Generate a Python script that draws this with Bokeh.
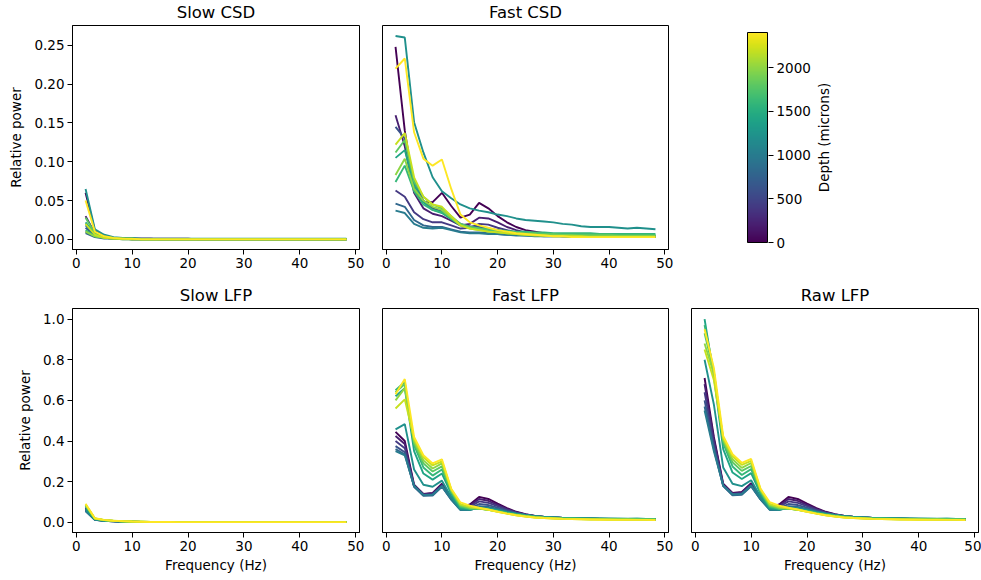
import numpy as np
from bokeh.plotting import figure
from bokeh.layouts import column, row
from bokeh.models import Range1d, FixedTicker, NumeralTickFormatter, LinearColorMapper, Label
from bokeh.core.properties import value
from bokeh.palettes import Viridis256
from bokeh.embed import file_html
from bokeh.resources import INLINE

# ---------------- data ----------------
freq = [1.67, 3.33, 5.0, 6.67, 8.33, 10.0, 11.67, 13.33, 15.0, 16.67, 18.33, 20.0,
        21.67, 23.33, 25.0, 26.67, 28.33, 30.0, 31.67, 33.33, 35.0, 36.67, 38.33,
        40.0, 41.67, 43.33, 45.0, 46.67, 48.33]

depths = [0, 200, 400, 600, 800, 1000, 1200, 1400, 1600, 1800, 2000, 2200, 2400]

x_ticks = [0, 10, 20, 30, 40, 50]
csd_ticks = [0.0, 0.05, 0.10, 0.15, 0.20, 0.25]
lfp_ticks = [0.0, 0.2, 0.4, 0.6, 0.8, 1.0]
depth_ticks = [0, 500, 1000, 1500, 2000]

top_titles = ["Slow CSD", "Fast CSD"]
bottom_titles = ["Slow LFP", "Fast LFP", "Raw LFP"]

slow_csd = [
    [0.060, 0.011, 0.004, 0.002, 0.001, 0.001, 0.001, 0.001, 0.001, 0.001, 0.001, 0.001, 0.000, 0.000, 0.000, 0.000, 0.000, 0.000, 0.000, 0.000, 0.000, 0.000, 0.000, 0.000, 0.000, 0.000, 0.000, 0.000, 0.000],
    [0.030, 0.008, 0.003, 0.002, 0.001, 0.001, 0.001, 0.001, 0.000, 0.000, 0.000, 0.000, 0.000, 0.000, 0.000, 0.000, 0.000, 0.000, 0.000, 0.000, 0.000, 0.000, 0.000, 0.000, 0.000, 0.000, 0.000, 0.000, 0.000],
    [0.010, 0.004, 0.002, 0.001, 0.001, 0.000, 0.000, 0.000, 0.000, 0.000, 0.000, 0.000, 0.000, 0.000, 0.000, 0.000, 0.000, 0.000, 0.000, 0.000, 0.000, 0.000, 0.000, 0.000, 0.000, 0.000, 0.000, 0.000, 0.000],
    [0.015, 0.005, 0.002, 0.001, 0.001, 0.000, 0.000, 0.000, 0.000, 0.000, 0.000, 0.000, 0.000, 0.000, 0.000, 0.000, 0.000, 0.000, 0.000, 0.000, 0.000, 0.000, 0.000, 0.000, 0.000, 0.000, 0.000, 0.000, 0.000],
    [0.008, 0.003, 0.001, 0.001, 0.000, 0.000, 0.000, 0.000, 0.000, 0.000, 0.000, 0.000, 0.000, 0.000, 0.000, 0.000, 0.000, 0.000, 0.000, 0.000, 0.000, 0.000, 0.000, 0.000, 0.000, 0.000, 0.000, 0.000, 0.000],
    [0.018, 0.006, 0.003, 0.002, 0.001, 0.001, 0.000, 0.000, 0.000, 0.000, 0.000, 0.000, 0.000, 0.000, 0.000, 0.000, 0.000, 0.000, 0.000, 0.000, 0.000, 0.000, 0.000, 0.000, 0.000, 0.000, 0.000, 0.000, 0.000],
    [0.065, 0.013, 0.006, 0.003, 0.002, 0.002, 0.001, 0.001, 0.001, 0.001, 0.001, 0.001, 0.001, 0.001, 0.001, 0.001, 0.001, 0.001, 0.001, 0.001, 0.001, 0.001, 0.001, 0.001, 0.001, 0.001, 0.001, 0.001, 0.001],
    [0.022, 0.007, 0.003, 0.002, 0.001, 0.001, 0.000, 0.000, 0.000, 0.000, 0.000, 0.000, 0.000, 0.000, 0.000, 0.000, 0.000, 0.000, 0.000, 0.000, 0.000, 0.000, 0.000, 0.000, 0.000, 0.000, 0.000, 0.000, 0.000],
    [0.012, 0.004, 0.002, 0.001, 0.001, 0.000, 0.000, 0.000, 0.000, 0.000, 0.000, 0.000, 0.000, 0.000, 0.000, 0.000, 0.000, 0.000, 0.000, 0.000, 0.000, 0.000, 0.000, 0.000, 0.000, 0.000, 0.000, 0.000, 0.000],
    [0.028, 0.008, 0.003, 0.002, 0.001, 0.001, 0.000, 0.000, 0.000, 0.000, 0.000, 0.000, 0.000, 0.000, 0.000, 0.000, 0.000, 0.000, 0.000, 0.000, 0.000, 0.000, 0.000, 0.000, 0.000, 0.000, 0.000, 0.000, 0.000],
    [0.010, 0.004, 0.002, 0.001, 0.000, 0.000, 0.000, 0.000, 0.000, 0.000, 0.000, 0.000, 0.000, 0.000, 0.000, 0.000, 0.000, 0.000, 0.000, 0.000, 0.000, 0.000, 0.000, 0.000, 0.000, 0.000, 0.000, 0.000, 0.000],
    [0.020, 0.006, 0.002, 0.001, 0.001, 0.000, 0.000, 0.000, 0.000, 0.000, 0.000, 0.000, 0.000, 0.000, 0.000, 0.000, 0.000, 0.000, 0.000, 0.000, 0.000, 0.000, 0.000, 0.000, 0.000, 0.000, 0.000, 0.000, 0.000],
    [0.050, 0.010, 0.004, 0.002, 0.001, 0.001, 0.000, 0.000, 0.000, 0.000, 0.000, 0.000, 0.000, 0.000, 0.000, 0.000, 0.000, 0.000, 0.000, 0.000, 0.000, 0.000, 0.000, 0.000, 0.000, 0.000, 0.000, 0.000, 0.000],
]

fast_csd = [
    [0.248, 0.140, 0.065, 0.048, 0.048, 0.060, 0.043, 0.028, 0.032, 0.047, 0.040, 0.030, 0.022, 0.016, 0.012, 0.010, 0.008, 0.007, 0.006, 0.006, 0.005, 0.005, 0.005, 0.004, 0.004, 0.004, 0.004, 0.004, 0.004],
    [0.160, 0.120, 0.060, 0.040, 0.033, 0.030, 0.024, 0.018, 0.020, 0.028, 0.027, 0.022, 0.016, 0.012, 0.009, 0.008, 0.007, 0.006, 0.005, 0.005, 0.004, 0.004, 0.004, 0.004, 0.003, 0.003, 0.003, 0.003, 0.003],
    [0.063, 0.055, 0.035, 0.026, 0.022, 0.022, 0.018, 0.014, 0.015, 0.020, 0.019, 0.015, 0.012, 0.009, 0.007, 0.006, 0.005, 0.005, 0.004, 0.004, 0.004, 0.003, 0.003, 0.003, 0.003, 0.003, 0.003, 0.003, 0.003],
    [0.145, 0.130, 0.075, 0.050, 0.040, 0.036, 0.028, 0.020, 0.017, 0.016, 0.014, 0.012, 0.010, 0.009, 0.008, 0.007, 0.006, 0.006, 0.005, 0.005, 0.005, 0.004, 0.004, 0.004, 0.004, 0.004, 0.004, 0.004, 0.004],
    [0.046, 0.042, 0.025, 0.018, 0.016, 0.016, 0.013, 0.010, 0.009, 0.009, 0.008, 0.007, 0.006, 0.006, 0.005, 0.005, 0.004, 0.004, 0.004, 0.004, 0.003, 0.003, 0.003, 0.003, 0.003, 0.003, 0.003, 0.003, 0.003],
    [0.037, 0.034, 0.020, 0.015, 0.014, 0.015, 0.012, 0.009, 0.008, 0.008, 0.007, 0.007, 0.006, 0.005, 0.005, 0.004, 0.004, 0.004, 0.004, 0.003, 0.003, 0.003, 0.003, 0.003, 0.003, 0.003, 0.003, 0.003, 0.003],
    [0.262, 0.260, 0.151, 0.112, 0.080, 0.062, 0.053, 0.045, 0.040, 0.037, 0.035, 0.032, 0.030, 0.027, 0.025, 0.024, 0.023, 0.022, 0.020, 0.019, 0.017, 0.016, 0.016, 0.016, 0.015, 0.014, 0.015, 0.014, 0.013],
    [0.105, 0.115, 0.070, 0.048, 0.038, 0.034, 0.026, 0.018, 0.015, 0.013, 0.012, 0.011, 0.010, 0.009, 0.008, 0.008, 0.007, 0.007, 0.006, 0.006, 0.006, 0.006, 0.005, 0.005, 0.005, 0.005, 0.005, 0.005, 0.005],
    [0.074, 0.095, 0.062, 0.045, 0.038, 0.035, 0.027, 0.019, 0.016, 0.014, 0.013, 0.012, 0.011, 0.010, 0.010, 0.009, 0.009, 0.008, 0.008, 0.008, 0.008, 0.008, 0.007, 0.007, 0.007, 0.007, 0.007, 0.007, 0.007],
    [0.112, 0.128, 0.075, 0.055, 0.045, 0.040, 0.030, 0.020, 0.016, 0.014, 0.012, 0.011, 0.010, 0.009, 0.008, 0.008, 0.007, 0.007, 0.006, 0.006, 0.006, 0.006, 0.006, 0.006, 0.005, 0.005, 0.005, 0.005, 0.005],
    [0.083, 0.104, 0.065, 0.050, 0.042, 0.038, 0.028, 0.018, 0.014, 0.012, 0.010, 0.009, 0.008, 0.007, 0.006, 0.006, 0.005, 0.005, 0.005, 0.005, 0.004, 0.004, 0.004, 0.004, 0.004, 0.004, 0.004, 0.004, 0.004],
    [0.122, 0.137, 0.080, 0.055, 0.045, 0.042, 0.030, 0.018, 0.014, 0.012, 0.010, 0.009, 0.008, 0.007, 0.006, 0.005, 0.005, 0.004, 0.004, 0.004, 0.004, 0.003, 0.003, 0.003, 0.003, 0.003, 0.003, 0.003, 0.003],
    [0.220, 0.233, 0.138, 0.104, 0.095, 0.103, 0.065, 0.032, 0.022, 0.018, 0.015, 0.012, 0.010, 0.008, 0.007, 0.006, 0.005, 0.004, 0.004, 0.003, 0.003, 0.003, 0.003, 0.003, 0.003, 0.003, 0.003, 0.003, 0.003],
]

slow_lfp = [
    [0.070, 0.016, 0.009, 0.006, 0.004, 0.003, 0.002, 0.002, 0.001, 0.001, 0.001, 0.001, 0.001, 0.001, 0.001, 0.001, 0.001, 0.001, 0.001, 0.001, 0.001, 0.001, 0.001, 0.001, 0.001, 0.001, 0.001, 0.001, 0.001],
    [0.066, 0.015, 0.009, 0.006, 0.004, 0.003, 0.002, 0.002, 0.001, 0.001, 0.001, 0.001, 0.001, 0.001, 0.001, 0.001, 0.001, 0.001, 0.001, 0.001, 0.001, 0.001, 0.001, 0.001, 0.001, 0.001, 0.001, 0.001, 0.001],
    [0.062, 0.014, 0.008, 0.005, 0.004, 0.003, 0.002, 0.001, 0.001, 0.001, 0.001, 0.001, 0.001, 0.001, 0.001, 0.001, 0.001, 0.001, 0.001, 0.001, 0.001, 0.001, 0.001, 0.001, 0.001, 0.001, 0.001, 0.001, 0.001],
    [0.058, 0.013, 0.008, 0.005, 0.003, 0.002, 0.002, 0.001, 0.001, 0.001, 0.001, 0.001, 0.001, 0.001, 0.001, 0.001, 0.001, 0.001, 0.001, 0.001, 0.001, 0.001, 0.001, 0.001, 0.001, 0.001, 0.001, 0.001, 0.001],
    [0.056, 0.012, 0.007, 0.005, 0.003, 0.002, 0.002, 0.001, 0.001, 0.001, 0.001, 0.001, 0.001, 0.001, 0.001, 0.001, 0.001, 0.001, 0.001, 0.001, 0.001, 0.001, 0.001, 0.001, 0.001, 0.001, 0.001, 0.001, 0.001],
    [0.055, 0.012, 0.007, 0.005, 0.003, 0.002, 0.002, 0.001, 0.001, 0.001, 0.001, 0.001, 0.001, 0.001, 0.001, 0.001, 0.001, 0.001, 0.001, 0.001, 0.001, 0.001, 0.001, 0.001, 0.001, 0.001, 0.001, 0.001, 0.001],
    [0.065, 0.015, 0.008, 0.006, 0.004, 0.003, 0.002, 0.002, 0.001, 0.001, 0.001, 0.001, 0.001, 0.001, 0.001, 0.001, 0.001, 0.001, 0.001, 0.001, 0.001, 0.001, 0.001, 0.001, 0.001, 0.001, 0.001, 0.001, 0.001],
    [0.078, 0.017, 0.010, 0.007, 0.005, 0.003, 0.002, 0.002, 0.002, 0.001, 0.001, 0.001, 0.001, 0.001, 0.001, 0.001, 0.001, 0.001, 0.001, 0.001, 0.001, 0.001, 0.001, 0.001, 0.001, 0.001, 0.001, 0.001, 0.001],
    [0.082, 0.018, 0.010, 0.007, 0.005, 0.003, 0.002, 0.002, 0.002, 0.001, 0.001, 0.001, 0.001, 0.001, 0.001, 0.001, 0.001, 0.001, 0.001, 0.001, 0.001, 0.001, 0.001, 0.001, 0.001, 0.001, 0.001, 0.001, 0.001],
    [0.084, 0.018, 0.011, 0.007, 0.005, 0.004, 0.003, 0.002, 0.002, 0.001, 0.001, 0.001, 0.001, 0.001, 0.001, 0.001, 0.001, 0.001, 0.001, 0.001, 0.001, 0.001, 0.001, 0.001, 0.001, 0.001, 0.001, 0.001, 0.001],
    [0.086, 0.019, 0.011, 0.007, 0.005, 0.004, 0.003, 0.002, 0.002, 0.001, 0.001, 0.001, 0.001, 0.001, 0.001, 0.001, 0.001, 0.001, 0.001, 0.001, 0.001, 0.001, 0.001, 0.001, 0.001, 0.001, 0.001, 0.001, 0.001],
    [0.088, 0.019, 0.011, 0.008, 0.005, 0.004, 0.003, 0.002, 0.002, 0.001, 0.001, 0.001, 0.001, 0.001, 0.001, 0.001, 0.001, 0.001, 0.001, 0.001, 0.001, 0.001, 0.001, 0.001, 0.001, 0.001, 0.001, 0.001, 0.001],
    [0.092, 0.020, 0.012, 0.008, 0.006, 0.004, 0.003, 0.002, 0.002, 0.002, 0.001, 0.001, 0.001, 0.001, 0.001, 0.001, 0.001, 0.001, 0.001, 0.001, 0.001, 0.001, 0.001, 0.001, 0.001, 0.001, 0.001, 0.001, 0.001],
]

fast_lfp = [
    [0.445, 0.400, 0.185, 0.140, 0.145, 0.190, 0.125, 0.072, 0.088, 0.125, 0.115, 0.092, 0.070, 0.052, 0.040, 0.032, 0.027, 0.024, 0.022, 0.020, 0.019, 0.018, 0.017, 0.016, 0.016, 0.015, 0.015, 0.015, 0.014],
    [0.425, 0.385, 0.180, 0.138, 0.142, 0.185, 0.120, 0.070, 0.082, 0.115, 0.106, 0.086, 0.066, 0.050, 0.039, 0.031, 0.027, 0.024, 0.022, 0.020, 0.019, 0.018, 0.017, 0.016, 0.016, 0.015, 0.015, 0.015, 0.014],
    [0.400, 0.365, 0.178, 0.136, 0.140, 0.182, 0.118, 0.068, 0.076, 0.103, 0.096, 0.080, 0.062, 0.048, 0.038, 0.031, 0.027, 0.024, 0.022, 0.020, 0.019, 0.018, 0.017, 0.016, 0.016, 0.015, 0.015, 0.015, 0.014],
    [0.375, 0.345, 0.176, 0.133, 0.136, 0.178, 0.115, 0.065, 0.070, 0.090, 0.085, 0.072, 0.058, 0.046, 0.037, 0.030, 0.026, 0.024, 0.022, 0.020, 0.019, 0.018, 0.017, 0.016, 0.016, 0.016, 0.016, 0.015, 0.015],
    [0.360, 0.335, 0.175, 0.130, 0.132, 0.175, 0.112, 0.062, 0.064, 0.080, 0.076, 0.066, 0.054, 0.044, 0.036, 0.030, 0.026, 0.024, 0.022, 0.020, 0.019, 0.018, 0.018, 0.017, 0.017, 0.016, 0.016, 0.016, 0.015],
    [0.350, 0.330, 0.180, 0.135, 0.136, 0.178, 0.112, 0.060, 0.060, 0.074, 0.070, 0.062, 0.052, 0.043, 0.036, 0.030, 0.026, 0.024, 0.022, 0.020, 0.019, 0.019, 0.018, 0.018, 0.017, 0.017, 0.017, 0.016, 0.016],
    [0.457, 0.483, 0.260, 0.185, 0.175, 0.205, 0.125, 0.065, 0.062, 0.072, 0.068, 0.060, 0.050, 0.042, 0.035, 0.030, 0.026, 0.024, 0.022, 0.021, 0.020, 0.019, 0.019, 0.018, 0.018, 0.018, 0.018, 0.017, 0.017],
    [0.620, 0.660, 0.350, 0.240, 0.210, 0.240, 0.140, 0.070, 0.064, 0.070, 0.065, 0.057, 0.048, 0.040, 0.034, 0.029, 0.025, 0.023, 0.021, 0.020, 0.019, 0.019, 0.018, 0.018, 0.018, 0.017, 0.018, 0.017, 0.017],
    [0.650, 0.690, 0.380, 0.270, 0.230, 0.260, 0.148, 0.075, 0.066, 0.068, 0.063, 0.055, 0.046, 0.038, 0.032, 0.027, 0.024, 0.022, 0.020, 0.019, 0.018, 0.017, 0.017, 0.016, 0.016, 0.016, 0.016, 0.016, 0.015],
    [0.640, 0.680, 0.390, 0.290, 0.250, 0.275, 0.152, 0.080, 0.068, 0.068, 0.062, 0.054, 0.045, 0.037, 0.031, 0.026, 0.023, 0.021, 0.019, 0.018, 0.017, 0.016, 0.016, 0.015, 0.015, 0.015, 0.015, 0.014, 0.014],
    [0.600, 0.660, 0.400, 0.305, 0.265, 0.290, 0.158, 0.085, 0.072, 0.068, 0.061, 0.053, 0.044, 0.036, 0.030, 0.025, 0.022, 0.020, 0.018, 0.017, 0.016, 0.015, 0.015, 0.014, 0.014, 0.014, 0.013, 0.013, 0.013],
    [0.560, 0.605, 0.410, 0.320, 0.280, 0.300, 0.162, 0.090, 0.076, 0.069, 0.061, 0.052, 0.043, 0.035, 0.029, 0.024, 0.021, 0.019, 0.017, 0.016, 0.015, 0.014, 0.014, 0.013, 0.013, 0.013, 0.012, 0.012, 0.012],
    [0.630, 0.705, 0.420, 0.330, 0.290, 0.310, 0.165, 0.098, 0.082, 0.072, 0.063, 0.052, 0.043, 0.035, 0.029, 0.024, 0.021, 0.019, 0.017, 0.016, 0.015, 0.014, 0.013, 0.013, 0.012, 0.012, 0.012, 0.012, 0.011],
]

raw_lfp = [
    [0.710, 0.420, 0.190, 0.145, 0.150, 0.192, 0.126, 0.073, 0.088, 0.125, 0.115, 0.092, 0.070, 0.052, 0.040, 0.032, 0.027, 0.024, 0.022, 0.020, 0.019, 0.018, 0.017, 0.016, 0.016, 0.015, 0.015, 0.015, 0.014],
    [0.680, 0.410, 0.185, 0.142, 0.146, 0.188, 0.122, 0.071, 0.082, 0.115, 0.106, 0.086, 0.066, 0.050, 0.039, 0.031, 0.027, 0.024, 0.022, 0.020, 0.019, 0.018, 0.017, 0.016, 0.016, 0.015, 0.015, 0.015, 0.014],
    [0.640, 0.390, 0.182, 0.139, 0.143, 0.184, 0.119, 0.069, 0.076, 0.103, 0.096, 0.080, 0.062, 0.048, 0.038, 0.031, 0.027, 0.024, 0.022, 0.020, 0.019, 0.018, 0.017, 0.016, 0.016, 0.015, 0.015, 0.015, 0.014],
    [0.600, 0.370, 0.180, 0.136, 0.139, 0.180, 0.116, 0.066, 0.070, 0.090, 0.085, 0.072, 0.058, 0.046, 0.037, 0.030, 0.026, 0.024, 0.022, 0.020, 0.019, 0.018, 0.017, 0.016, 0.016, 0.016, 0.016, 0.015, 0.015],
    [0.570, 0.360, 0.178, 0.133, 0.135, 0.177, 0.113, 0.063, 0.064, 0.080, 0.076, 0.066, 0.054, 0.044, 0.036, 0.030, 0.026, 0.024, 0.022, 0.020, 0.019, 0.018, 0.018, 0.017, 0.017, 0.016, 0.016, 0.016, 0.015],
    [0.550, 0.350, 0.182, 0.138, 0.139, 0.180, 0.113, 0.061, 0.060, 0.074, 0.070, 0.062, 0.052, 0.043, 0.036, 0.030, 0.026, 0.024, 0.022, 0.020, 0.019, 0.019, 0.018, 0.018, 0.017, 0.017, 0.017, 0.016, 0.016],
    [0.800, 0.580, 0.270, 0.190, 0.178, 0.207, 0.126, 0.066, 0.062, 0.072, 0.068, 0.060, 0.050, 0.042, 0.035, 0.030, 0.026, 0.024, 0.022, 0.021, 0.020, 0.019, 0.019, 0.018, 0.018, 0.018, 0.018, 0.017, 0.017],
    [1.000, 0.720, 0.360, 0.245, 0.213, 0.242, 0.141, 0.071, 0.064, 0.070, 0.065, 0.057, 0.048, 0.040, 0.034, 0.029, 0.025, 0.023, 0.021, 0.020, 0.019, 0.019, 0.018, 0.018, 0.018, 0.017, 0.018, 0.017, 0.017],
    [0.970, 0.740, 0.390, 0.275, 0.233, 0.262, 0.149, 0.076, 0.066, 0.068, 0.063, 0.055, 0.046, 0.038, 0.032, 0.027, 0.024, 0.022, 0.020, 0.019, 0.018, 0.017, 0.017, 0.016, 0.016, 0.016, 0.016, 0.016, 0.015],
    [0.930, 0.740, 0.400, 0.295, 0.253, 0.277, 0.153, 0.081, 0.068, 0.068, 0.062, 0.054, 0.045, 0.037, 0.031, 0.026, 0.023, 0.021, 0.019, 0.018, 0.017, 0.016, 0.016, 0.015, 0.015, 0.015, 0.015, 0.014, 0.014],
    [0.880, 0.730, 0.410, 0.310, 0.268, 0.292, 0.159, 0.086, 0.072, 0.068, 0.061, 0.053, 0.044, 0.036, 0.030, 0.025, 0.022, 0.020, 0.018, 0.017, 0.016, 0.015, 0.015, 0.014, 0.014, 0.014, 0.013, 0.013, 0.013],
    [0.850, 0.700, 0.415, 0.325, 0.283, 0.302, 0.163, 0.091, 0.076, 0.069, 0.061, 0.052, 0.043, 0.035, 0.029, 0.024, 0.021, 0.019, 0.017, 0.016, 0.015, 0.014, 0.014, 0.013, 0.013, 0.013, 0.012, 0.012, 0.012],
    [0.950, 0.760, 0.425, 0.335, 0.293, 0.312, 0.166, 0.099, 0.082, 0.072, 0.063, 0.052, 0.043, 0.035, 0.029, 0.024, 0.021, 0.019, 0.017, 0.016, 0.015, 0.014, 0.013, 0.013, 0.012, 0.012, 0.012, 0.012, 0.011],
]

# ---------------- styling / layout ----------------
FONT = "DejaVu Sans"
TICK_SIZE = "13.5px"
LABEL_SIZE = "13.5px"
TITLE_SIZE = "16.5px"
DEPTH_MAX = 2400
PAGE_W = 981

FW_L, FW_M, FW_R = 287, 286, 287
ML, GAP_R, GAP_L, MR = 72, 11, 12, 3
FH = 224
TITLE_H = 24
TOP_MB = 34
BOT_MB = 46


def depth_color(d):
    return Viridis256[int(round(d / DEPTH_MAX * 255))]


def style_axes(p, label_standoff=3):
    p.outline_line_color = "black"
    p.outline_line_alpha = 1.0
    p.outline_line_width = 1
    p.background_fill_color = "white"
    p.border_fill_color = "white"
    p.grid.visible = False
    for ax in p.axis:
        ax.axis_line_color = "black"
        ax.major_tick_line_color = "black"
        ax.major_tick_in = 0
        ax.major_tick_out = 5
        ax.minor_tick_line_color = None
        ax.major_label_text_font = FONT
        ax.major_label_text_font_size = TICK_SIZE
        ax.major_label_text_color = "black"
        ax.axis_label_text_font = FONT
        ax.axis_label_text_font_size = LABEL_SIZE
        ax.axis_label_text_font_style = "normal"
        ax.axis_label_text_color = "black"
        ax.major_label_standoff = 3
        ax.axis_label_standoff = label_standoff


def clean(p):
    p.outline_line_color = None
    p.grid.visible = False
    p.background_fill_color = "white"
    p.border_fill_color = "white"
    return p


def title_strip(titles, centers):
    p = figure(width=PAGE_W, height=TITLE_H, x_range=Range1d(0, PAGE_W),
               y_range=Range1d(0, TITLE_H), output_backend="svg", toolbar_location=None,
               x_axis_location=None, y_axis_location=None, min_border_left=0,
               min_border_right=0, min_border_top=0, min_border_bottom=0)
    clean(p)
    p.text(x=centers, y=[TITLE_H / 2] * len(titles), text=titles,
           text_align="center", text_baseline="middle", text_font=value(FONT),
           text_font_size=value(TITLE_SIZE), text_color="black")
    return p


def panel(rows, y_range, fw, mbl, mbr, mbb, show_y,
          y_ticks=None, y_fmt=None, ylabel=None, xlabel=None):
    p = figure(frame_width=fw, frame_height=FH, x_range=Range1d(-0.67, 50.67), y_range=y_range,
               output_backend="svg", toolbar_location=None,
               y_axis_location="left" if show_y else None,
               min_border_left=mbl, min_border_right=mbr,
               min_border_top=1, min_border_bottom=mbb)
    for d, vals in zip(depths, rows):
        p.line(freq, vals, line_color=depth_color(d), line_width=1.9)
    style_axes(p)
    p.xaxis.ticker = FixedTicker(ticks=x_ticks)
    p.xaxis.formatter = NumeralTickFormatter(format="0")
    if xlabel:
        p.xaxis.axis_label = xlabel
    if show_y:
        p.yaxis.ticker = FixedTicker(ticks=y_ticks)
        p.yaxis.formatter = NumeralTickFormatter(format=y_fmt)
        if ylabel:
            p.yaxis.axis_label = ylabel
            p.yaxis.axis_label_standoff = 7
    return p


csd_range = Range1d(-0.013, 0.2755)
lfp_range = Range1d(-0.05, 1.052)

x_left = ML
x_mid = ML + FW_L + GAP_R + GAP_L
x_right = x_mid + FW_M + GAP_R + GAP_L
centers_top = [x_left + FW_L / 2, x_mid + FW_M / 2]
centers_bot = [x_left + FW_L / 2, x_mid + FW_M / 2, x_right + FW_R / 2]

pA = panel(slow_csd, csd_range, FW_L, ML, GAP_R, TOP_MB, True, csd_ticks, "0.00", "Relative power")
pB = panel(fast_csd, csd_range, FW_M, GAP_L, GAP_R, TOP_MB, False)

# colorbar: same frame box as the panels (rows align frames), bar drawn inside it
CB_PAD_PX = 7            # bar inset from frame top / bottom, pixels
CB_BAR_PX = FH - 2 * CB_PAD_PX
pad_units = CB_PAD_PX * DEPTH_MAX / CB_BAR_PX
cb_left, cb_fw, cb_right = 67, 22, 44
pC = figure(frame_width=cb_fw, frame_height=FH, x_range=Range1d(-0.05, 1.05),
            y_range=Range1d(-pad_units, DEPTH_MAX + pad_units),
            output_backend="svg", toolbar_location=None, x_axis_location=None,
            y_axis_location="right",
            min_border_left=cb_left, min_border_right=cb_right,
            min_border_top=1, min_border_bottom=TOP_MB)
mapper = LinearColorMapper(palette=Viridis256, low=0, high=DEPTH_MAX)
grad = np.linspace(0, DEPTH_MAX, 256).reshape(-1, 1)
pC.image(image=[grad], x=0, y=0, dw=1, dh=DEPTH_MAX, color_mapper=mapper)
pC.quad(left=0, right=1, bottom=0, top=DEPTH_MAX, fill_color=None, line_color="black",
        line_width=1)
style_axes(pC)
pC.outline_line_color = None
pC.yaxis.axis_line_color = None
pC.yaxis.ticker = FixedTicker(ticks=depth_ticks)
pC.yaxis.formatter = NumeralTickFormatter(format="0")

used_w = (ML + FW_L + GAP_R) + (GAP_L + FW_M + GAP_R) + (cb_left + cb_fw + cb_right)
wL = PAGE_W - used_w
pL = figure(frame_width=wL, frame_height=FH, x_range=Range1d(0, wL), y_range=Range1d(0, FH),
            output_backend="svg", toolbar_location=None, x_axis_location=None,
            y_axis_location=None, min_border_left=0, min_border_right=0,
            min_border_top=1, min_border_bottom=TOP_MB)
clean(pL)
pL.add_layout(Label(x=10.7, y=FH / 2, angle=np.pi / 2, text="Depth (microns)",
                    text_align="center", text_baseline="middle", text_font=FONT,
                    text_font_size=LABEL_SIZE, text_color="black"))

pD = panel(slow_lfp, lfp_range, FW_L, ML, GAP_R, BOT_MB, True, lfp_ticks, "0.0",
           "Relative power", "Frequency (Hz)")
pE = panel(fast_lfp, lfp_range, FW_M, GAP_L, GAP_R, BOT_MB, False, xlabel="Frequency (Hz)")
pF = panel(raw_lfp, lfp_range, FW_R, GAP_L, MR, BOT_MB, False, xlabel="Frequency (Hz)")

layout = column(
    title_strip(top_titles, centers_top),
    row(pA, pB, pC, pL, spacing=0),
    title_strip(bottom_titles, centers_bot),
    row(pD, pE, pF, spacing=0),
    spacing=0,
)

open("out.html", "w").write(file_html(layout, INLINE))
